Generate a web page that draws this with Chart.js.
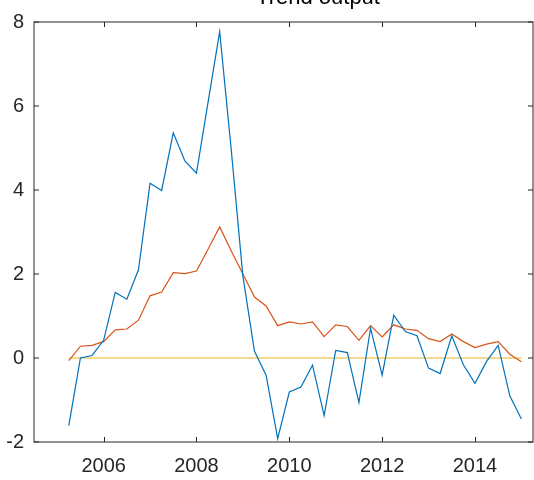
<!DOCTYPE html>
<html>
<head>
<meta charset="utf-8">
<title>Trend output</title>
<script src="https://cdn.jsdelivr.net/npm/chart.js@4.4.1/dist/chart.umd.min.js"></script>
<style>
  html, body { margin: 0; padding: 0; background: #fff; }
  #wrap { width: 534px; height: 480px; }
</style>
</head>
<body>
<div id="wrap"><canvas id="myChart" width="534" height="480"></canvas></div>
<script>
// quarterly time axis (decimal years)
const quarters = [
  2005.25, 2005.5, 2005.75, 2006.0, 2006.25, 2006.5, 2006.75, 2007.0,
  2007.25, 2007.5, 2007.75, 2008.0, 2008.25, 2008.5, 2008.75, 2009.0,
  2009.25, 2009.5, 2009.75, 2010.0, 2010.25, 2010.5, 2010.75, 2011.0,
  2011.25, 2011.5, 2011.75, 2012.0, 2012.25, 2012.5, 2012.75, 2013.0,
  2013.25, 2013.5, 2013.75, 2014.0, 2014.25, 2014.5, 2014.75, 2015.0
];
const seriesBlue = [
  -1.61, 0.00, 0.06, 0.42, 1.56, 1.40, 2.10, 4.16,
  3.99, 5.36, 4.69, 4.40, 6.09, 7.77, 4.95, 1.95,
  0.16, -0.41, -1.92, -0.81, -0.69, -0.17, -1.37, 0.18,
  0.13, -1.06, 0.71, -0.41, 1.02, 0.63, 0.53, -0.24,
  -0.37, 0.53, -0.16, -0.60, -0.08, 0.30, -0.90, -1.45
];
const seriesOrange = [
  -0.06, 0.28, 0.30, 0.39, 0.67, 0.69, 0.90, 1.48,
  1.57, 2.03, 2.01, 2.07, 2.59, 3.12, 2.55, 2.00,
  1.45, 1.24, 0.77, 0.86, 0.81, 0.86, 0.51, 0.79,
  0.75, 0.42, 0.77, 0.50, 0.79, 0.69, 0.66, 0.46,
  0.39, 0.57, 0.39, 0.25, 0.33, 0.39, 0.09, -0.09
];
const seriesYellow = [
  0, 0, 0, 0, 0, 0, 0, 0, 0, 0, 0, 0, 0, 0, 0, 0, 0, 0, 0, 0,
  0, 0, 0, 0, 0, 0, 0, 0, 0, 0, 0, 0, 0, 0, 0, 0, 0, 0, 0, 0
];
const xTicks = [2006, 2008, 2010, 2012, 2014];
const yTicks = [-2, 0, 2, 4, 6, 8];
const titleText = 'Trend output';

const axisColor = '#262626';
const tickFont = { family: '"Liberation Sans", Arial, sans-serif', size: 20 };

function pts(ys) {
  return quarters.map((q, i) => ({ x: q, y: ys[i] }));
}

// MATLAB style box with inward ticks, plus the clipped title
const frame = {
  id: 'frame',
  afterDraw(chart) {
    const ctx = chart.ctx;
    const a = chart.chartArea;
    const x = chart.scales.x, y = chart.scales.y;
    const L = a.left, R = a.right, T = a.top, B = a.bottom;
    ctx.save();
    ctx.strokeStyle = axisColor;
    ctx.lineWidth = 1;
    ctx.strokeRect(L, T, R - L, B - T);
    ctx.beginPath();
    x.ticks.forEach(t => {
      const px = Math.round(x.getPixelForValue(t.value)) + 0.5;
      ctx.moveTo(px, B); ctx.lineTo(px, B - 5);
      ctx.moveTo(px, T); ctx.lineTo(px, T + 5);
    });
    y.ticks.forEach(t => {
      const py = Math.round(y.getPixelForValue(t.value));
      ctx.moveTo(L, py); ctx.lineTo(L + 5, py);
      ctx.moveTo(R, py); ctx.lineTo(R - 5, py);
    });
    ctx.stroke();
    ctx.fillStyle = '#000';
    ctx.font = '22px "Liberation Sans", Arial, sans-serif';
    ctx.textAlign = 'center';
    ctx.textBaseline = 'alphabetic';
    ctx.fillText(titleText, 318, 4);
    ctx.restore();
  }
};

const ctx = document.getElementById('myChart').getContext('2d');
const trendChart = new Chart(ctx, {
  type: 'line',
  data: {
    datasets: [
      { data: pts(seriesBlue), borderColor: '#0072BD', borderWidth: 1.2, pointRadius: 0, tension: 0 },
      { data: pts(seriesOrange), borderColor: '#D95319', borderWidth: 1.2, pointRadius: 0, tension: 0 },
      { data: pts(seriesYellow), borderColor: '#EDB120', borderWidth: 1.2, pointRadius: 0, tension: 0 }
    ]
  },
  options: {
    responsive: false,
    animation: false,
    devicePixelRatio: 1,
    layout: { padding: { top: 17, right: 1, left: 0, bottom: 0 } },
    plugins: { legend: { display: false }, tooltip: { enabled: false }, title: { display: false } },
    scales: {
      x: {
        type: 'linear',
        min: 2004.5,
        max: 2015.25,
        grid: { display: false, drawTicks: false },
        border: { display: false },
        afterBuildTicks: axis => { axis.ticks = xTicks.map(v => ({ value: v })); },
        afterFit: axis => { axis.height = 38; },
        ticks: {
          color: axisColor,
          font: tickFont,
          padding: 12,
          maxRotation: 0,
          callback: v => String(v)
        }
      },
      y: {
        min: -2,
        max: 8,
        grid: { display: false, drawTicks: false },
        border: { display: false },
        afterBuildTicks: axis => { axis.ticks = yTicks.map(v => ({ value: v })); },
        afterFit: axis => { axis.width = 34; },
        ticks: {
          color: axisColor,
          font: tickFont,
          padding: 10,
          callback: v => String(v)
        }
      }
    }
  },
  plugins: [frame]
});
</script>
</body>
</html>
